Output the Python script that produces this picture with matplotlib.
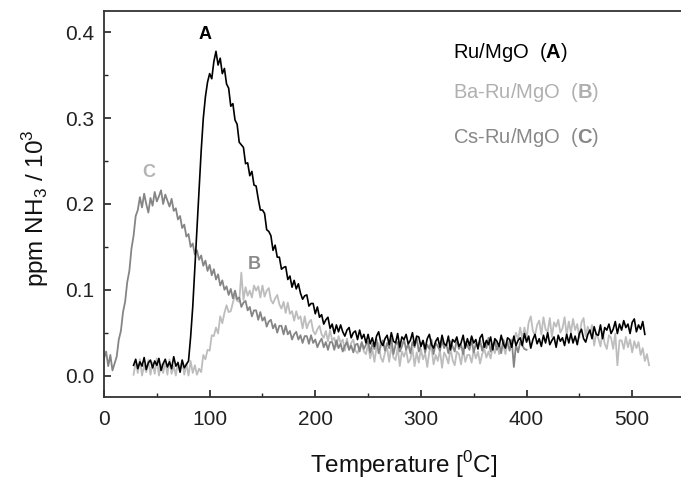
import numpy as np
import matplotlib
matplotlib.use('Agg')
import matplotlib.pyplot as plt
from matplotlib.ticker import MultipleLocator

plt.rcParams['font.family'] = ['Liberation Sans', 'DejaVu Sans']
plt.rcParams['mathtext.fontset'] = 'custom'
plt.rcParams['mathtext.rm'] = 'Liberation Sans'
plt.rcParams['mathtext.bf'] = 'Liberation Sans:bold'

step = 2

# Ru/MgO (A), starts at 28 C
a_start = 28
a_vals = [
    0.012, 0.019, 0.008, 0.016, 0.011, 0.021, 0.007, 0.015, 0.018, 0.009,
    0.017, 0.012, 0.020, 0.006, 0.014, 0.019, 0.010, 0.016, 0.008, 0.022,
    0.011, 0.015, 0.004, 0.018, 0.009, 0.013, 0.017,
    0.045, 0.080, 0.125, 0.170, 0.215, 0.262, 0.300, 0.325, 0.342, 0.352,
    0.346, 0.366, 0.378, 0.362, 0.370, 0.352, 0.358, 0.340,
    0.335, 0.314, 0.317, 0.298, 0.293, 0.272, 0.269, 0.266, 0.247, 0.248,
    0.233, 0.238, 0.222, 0.221, 0.206, 0.193, 0.193, 0.189, 0.170, 0.168,
    0.163, 0.146, 0.152, 0.138, 0.138, 0.124, 0.126, 0.127, 0.112, 0.116,
    0.103, 0.111, 0.101, 0.107, 0.096, 0.089, 0.093, 0.094, 0.081, 0.084,
    0.084, 0.072, 0.080, 0.068, 0.071, 0.060, 0.065, 0.068, 0.055, 0.060,
    0.049, 0.059, 0.051, 0.059, 0.051, 0.046, 0.053, 0.056, 0.044, 0.050,
    0.052, 0.042, 0.053, 0.043, 0.048, 0.038,
    0.048, 0.037, 0.044, 0.034, 0.046, 0.051, 0.039, 0.035, 0.043, 0.047,
    0.036, 0.050, 0.040, 0.038, 0.049, 0.033, 0.045, 0.042, 0.048, 0.037,
    0.041, 0.050, 0.035, 0.046,
    0.045, 0.034, 0.041, 0.031, 0.043, 0.048, 0.036, 0.032, 0.040, 0.044,
    0.033, 0.047, 0.037, 0.035, 0.046, 0.030, 0.042, 0.039, 0.045, 0.034,
    0.038, 0.047, 0.032, 0.043,
    0.035, 0.046, 0.038, 0.042, 0.031, 0.044, 0.048, 0.033, 0.041, 0.036,
    0.045, 0.030, 0.043, 0.040, 0.034, 0.047, 0.037, 0.032, 0.044, 0.042,
    0.033, 0.046, 0.035, 0.041,
    0.044, 0.035, 0.049, 0.039, 0.046, 0.032, 0.042, 0.048, 0.037, 0.043,
    0.034, 0.047, 0.038, 0.050, 0.036, 0.041, 0.045, 0.033, 0.047, 0.040,
    0.044, 0.035, 0.048, 0.038,
    0.049, 0.038, 0.046, 0.036, 0.049, 0.054, 0.043, 0.039, 0.048, 0.053,
    0.043, 0.057, 0.048, 0.047, 0.059, 0.043, 0.056, 0.053, 0.060, 0.049,
    0.054, 0.063, 0.049, 0.060,
    0.053, 0.064, 0.056, 0.060, 0.049, 0.062, 0.066, 0.051, 0.059, 0.054,
    0.063, 0.048,
]

# Ba-Ru/MgO (B), starts at 28 C
b_start = 28
b_vals = [
    0.001, 0.016, 0.003, 0.019, 0.000, 0.012, 0.004, 0.018, 0.001, 0.015,
    0.002, 0.020, 0.000, 0.013, 0.003, 0.017, 0.001, 0.019, 0.002, 0.011,
    0.000, 0.016, 0.004, 0.018, 0.001, 0.014, 0.000, 0.017, 0.003, 0.012,
    0.001,
    0.008, 0.004, 0.024, 0.019, 0.030, 0.029, 0.047, 0.046, 0.056, 0.049,
    0.069, 0.061, 0.073, 0.082, 0.074, 0.075, 0.085, 0.094, 0.087, 0.086,
    0.120, 0.088, 0.103, 0.093, 0.099, 0.091, 0.105, 0.099, 0.104, 0.091,
    0.105, 0.092, 0.099, 0.102, 0.088, 0.084, 0.090, 0.094, 0.083, 0.078,
    0.086, 0.073, 0.085, 0.072, 0.075, 0.064, 0.075, 0.066, 0.069, 0.055,
    0.069, 0.055, 0.062, 0.065, 0.052, 0.048, 0.054, 0.058, 0.048, 0.044,
    0.052, 0.040, 0.053, 0.041, 0.044, 0.034, 0.046, 0.038, 0.042, 0.029,
    0.043, 0.030, 0.038, 0.042, 0.029, 0.026, 0.033, 0.038, 0.028, 0.025,
    0.037, 0.020, 0.031, 0.016, 0.033, 0.038, 0.021, 0.016, 0.027, 0.032,
    0.016, 0.035, 0.021, 0.018, 0.033, 0.011, 0.028, 0.022, 0.030, 0.015,
    0.019, 0.032, 0.011, 0.027,
    0.015, 0.031, 0.019, 0.026, 0.010, 0.028, 0.033, 0.013, 0.024, 0.017,
    0.030, 0.009, 0.027, 0.022, 0.014, 0.032, 0.018, 0.012, 0.028, 0.025,
    0.013, 0.031, 0.016, 0.024,
    0.024, 0.015, 0.030, 0.020, 0.028, 0.014, 0.025, 0.031, 0.021, 0.028,
    0.020, 0.034, 0.026, 0.039, 0.025, 0.031, 0.036, 0.025, 0.041, 0.036,
    0.042, 0.041, 0.050, 0.042,
    0.056, 0.042, 0.056, 0.043, 0.062, 0.069, 0.052, 0.047, 0.059, 0.064,
    0.048, 0.068, 0.054, 0.051, 0.067, 0.045, 0.062, 0.057, 0.065, 0.050,
    0.055, 0.068, 0.047, 0.063,
    0.050, 0.066, 0.053, 0.060, 0.044, 0.062, 0.067, 0.046, 0.057, 0.049,
    0.059, 0.035, 0.050, 0.043, 0.034, 0.051, 0.037, 0.031, 0.047, 0.044,
    0.031, 0.049, 0.012, 0.041,
    0.041, 0.031, 0.045, 0.033, 0.042, 0.027, 0.040, 0.032, 0.039, 0.024,
    0.032, 0.017, 0.025, 0.012,
]

# Cs-Ru/MgO (C), starts at 0 C
c_start = 0
c_vals = [
    0.020, 0.028, 0.011, 0.024, 0.006, 0.014, 0.022, 0.042, 0.052, 0.074,
    0.086, 0.109, 0.122, 0.148, 0.163, 0.186, 0.193, 0.208, 0.196, 0.212,
    0.200, 0.190, 0.207, 0.198, 0.214, 0.203, 0.209, 0.216, 0.200, 0.211,
    0.204, 0.197, 0.206, 0.192, 0.195, 0.182, 0.186, 0.172, 0.176, 0.162,
    0.165, 0.150, 0.154, 0.141, 0.146, 0.135, 0.140, 0.128, 0.134, 0.122,
    0.129, 0.117, 0.124, 0.112, 0.118, 0.105, 0.111, 0.100, 0.104, 0.094,
    0.101, 0.090, 0.099, 0.089, 0.091, 0.080, 0.085, 0.087, 0.076, 0.080,
    0.069, 0.076, 0.076, 0.065, 0.074, 0.064, 0.068, 0.057, 0.063, 0.065,
    0.055, 0.060, 0.050, 0.058, 0.058, 0.048, 0.058, 0.048, 0.052, 0.042,
    0.048, 0.051, 0.042, 0.047, 0.038, 0.046, 0.046, 0.037, 0.047, 0.038,
    0.042, 0.033, 0.039, 0.043, 0.033, 0.039, 0.030, 0.039, 0.039, 0.030,
    0.041, 0.032, 0.037, 0.028, 0.035, 0.039, 0.030, 0.035, 0.027, 0.036,
    0.037, 0.028, 0.039, 0.031, 0.036,
    0.040, 0.027, 0.037, 0.031, 0.042, 0.026, 0.035, 0.041, 0.029, 0.038,
    0.032, 0.043, 0.025, 0.036, 0.039, 0.028, 0.034, 0.042, 0.030, 0.037,
    0.026, 0.039, 0.033, 0.044, 0.028, 0.035, 0.040, 0.027, 0.036, 0.031,
    0.042, 0.025, 0.038, 0.034, 0.029, 0.041, 0.032, 0.037, 0.026, 0.040,
    0.034, 0.028, 0.043, 0.031, 0.036, 0.025, 0.039, 0.035, 0.030, 0.042,
    0.027, 0.037, 0.033, 0.041, 0.029, 0.038, 0.032, 0.044, 0.028, 0.036,
    0.040, 0.030, 0.037, 0.026, 0.042, 0.034, 0.038, 0.029, 0.041, 0.010,
    0.036, 0.027, 0.039, 0.035, 0.031, 0.030,
]

a_temp = a_start + step * np.arange(len(a_vals))
b_temp = b_start + step * np.arange(len(b_vals))
c_temp = c_start + step * np.arange(len(c_vals))

col_a = '#000000'
col_b = '#bdbdbd'
col_c = '#858585'

fig = plt.figure(figsize=(6.81, 4.86), dpi=100)
ax = fig.add_axes([104 / 681, 89 / 486, 581 / 681, 386 / 486])

ax.plot(b_temp, b_vals, color=col_b, lw=1.3)
ax.plot(c_temp, c_vals, color=col_c, lw=1.3)
ax.plot(a_temp, a_vals, color=col_a, lw=1.2)

ax.set_xlim(0, 550)
ax.set_ylim(-0.025, 0.425)
ax.xaxis.set_major_locator(MultipleLocator(100))
ax.xaxis.set_minor_locator(MultipleLocator(50))
ax.yaxis.set_major_locator(MultipleLocator(0.1))
ax.yaxis.set_minor_locator(MultipleLocator(0.05))
ax.yaxis.set_major_formatter(matplotlib.ticker.FormatStrFormatter('%.1f'))
ax.tick_params(which='major', direction='in', length=5, width=1.2,
               labelsize=15, pad=7, colors='#222222')
ax.tick_params(which='minor', direction='in', length=3, width=1.0, colors='#222222')
ax.tick_params(axis='x', pad=9)
for sp in ax.spines.values():
    sp.set_linewidth(1.3)
    sp.set_color('#333333')

# curve labels
ax.text(95.5, 0.398, 'A', color=col_a, fontsize=13, fontweight='bold',
        ha='center', va='center')
ax.text(42.6, 0.237, 'C', color='#b4b4b4', fontsize=13, fontweight='bold',
        ha='center', va='center')
ax.text(142, 0.129, 'B', color='#8c8c8c', fontsize=13, fontweight='bold',
        ha='center', va='center')

# legend as text
ax.text(330.7, 0.377, r'Ru/MgO  ($\mathbf{A}$)', color=col_a, fontsize=14.5,
        ha='left', va='center')
ax.text(330.7, 0.330, r'Ba-Ru/MgO  ($\mathbf{B}$)', color='#b0b0b0', fontsize=14.5,
        ha='left', va='center')
ax.text(330.7, 0.278, r'Cs-Ru/MgO  ($\mathbf{C}$)', color='#888888', fontsize=14.5,
        ha='left', va='center')

fig.text(404 / 681, 1 - 465 / 486, r'Temperature [$^0$C]', fontsize=17.5,
         ha='center', va='center', color='#111111')
fig.text(36 / 681, 1 - 208 / 486, r'ppm NH$_3$ / 10$^3$', fontsize=17.5,
         ha='center', va='center', rotation=90, color='#111111')

fig.savefig('out.png', dpi=100)
